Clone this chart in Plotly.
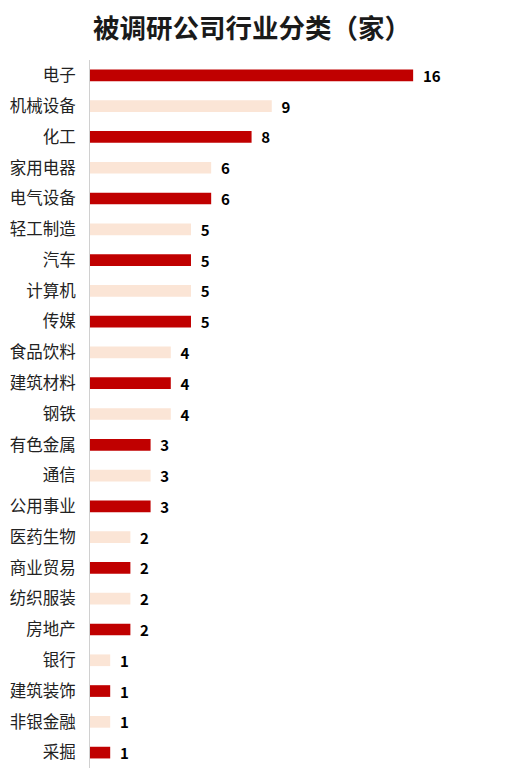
import plotly.graph_objects as go

# industry categories, top to bottom
categories = ['电子', '机械设备', '化工', '家用电器', '电气设备', '轻工制造', '汽车', '计算机',
              '传媒', '食品饮料', '建筑材料', '钢铁', '有色金属', '通信', '公用事业', '医药生物',
              '商业贸易', '纺织服装', '房地产', '银行', '建筑装饰', '非银金融', '采掘']
counts = [16, 9, 8, 6, 6, 5, 5, 5, 5, 4, 4, 4, 3, 3, 3, 2, 2, 2, 2, 1, 1, 1, 1]

dark = '#C00000'
light = '#FBE5D6'
# alternating colours like the original
colors = [dark if i % 2 == 0 else light for i in range(len(categories))]

fig = go.Figure()
fig.add_trace(go.Bar(
    x=counts, y=categories, orientation='h',
    marker=dict(color=colors, line=dict(width=0)),
    text=counts, texttemplate='  <b>%{text}</b>', textposition='outside',
    constraintext='none',
    textfont=dict(family='Noto Sans CJK SC', size=15, color='#000000'),
    cliponaxis=False,
    width=0.38,
))

fig.update_layout(
    width=506, height=775,
    margin=dict(l=82, r=14, t=52, b=15, autoexpand=False),
    paper_bgcolor='white', plot_bgcolor='white',
    showlegend=False,
    title=dict(text='<b>被调研公司行业分类（家）</b>', x=0.482, xanchor='center', y=0.973, yanchor='middle',
               font=dict(family='Noto Sans CJK SC', size=26.5, color='#1a1a1a')),
    font=dict(family='Noto Sans CJK SC'),
)
fig.update_xaxes(range=[0, 20.3], visible=False, showgrid=False, zeroline=False, automargin=False)
fig.update_yaxes(autorange='reversed', showgrid=False, zeroline=False, automargin=False,
                 showline=True, linecolor='#d0d0d0', linewidth=1,
                 ticks='', ticklabelstandoff=10,
                 tickfont=dict(family='Noto Sans CJK SC', size=16.5, color='#222222'))

fig.write_html("out.html")
